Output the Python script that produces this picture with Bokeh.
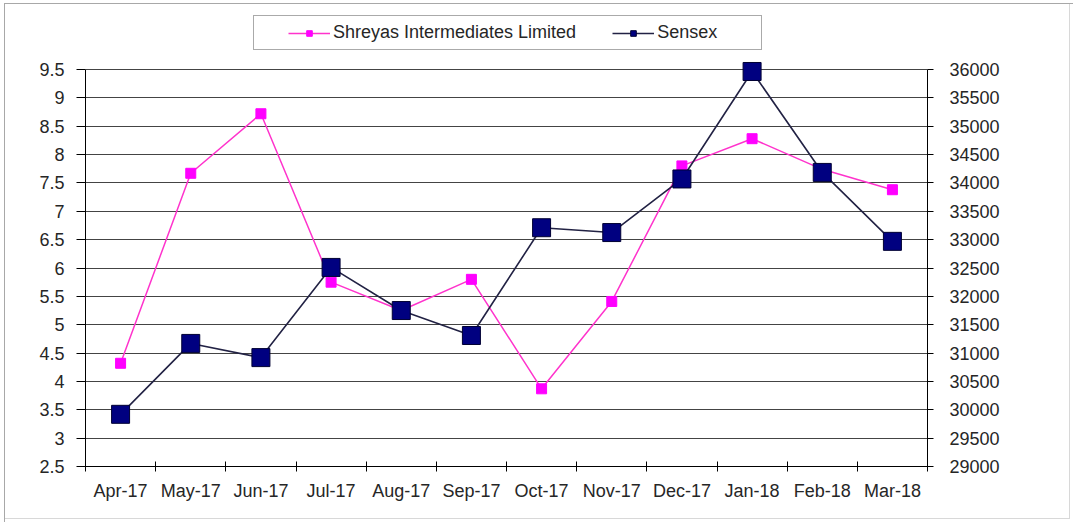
from bokeh.plotting import figure
from bokeh.models import (Range1d, LinearAxis, FixedTicker, Legend, LegendItem,
                          ColumnDataSource)
from bokeh.embed import file_html
from bokeh.resources import INLINE

months = ["Apr-17", "May-17", "Jun-17", "Jul-17", "Aug-17", "Sep-17",
          "Oct-17", "Nov-17", "Dec-17", "Jan-18", "Feb-18", "Mar-18"]
shreyas = [4.32, 7.67, 8.72, 5.75, 5.25, 5.8, 3.87, 5.41, 7.8, 8.28, 7.74, 7.38]
sensex = [29920, 31170, 30920, 32510, 31750, 31310, 33210, 33125, 34070, 35965, 34185, 32970]
left_ticks = [2.5, 3, 3.5, 4, 4.5, 5, 5.5, 6, 6.5, 7, 7.5, 8, 8.5, 9, 9.5]
right_ticks = list(range(29000, 36001, 500))

xpos = [i + 0.5 for i in range(len(months))]
src = ColumnDataSource(dict(x=xpos, s=shreyas, n=sensex, m=months))

FONT = "Liberation Sans"
FS = "18px"
TXT = "#262626"

# layout in pixels: frame from y=5 to y=466, value axis spans 69..466
W, H = 1073, 522
TOP, BOTTOM = 5, H - 466
span_px = 466 - 69
frame_px = H - TOP - BOTTOM
lo, hi = left_ticks[0], left_ticks[-1]
y_end = lo + frame_px * (hi - lo) / span_px
rlo, rhi = right_ticks[0], right_ticks[-1]
r_end = rlo + frame_px * (rhi - rlo) / span_px

p = figure(width=W, height=H, output_backend="svg", toolbar_location=None,
           x_range=Range1d(0, len(months)), y_range=Range1d(lo, y_end),
           min_border_left=85, min_border_right=W - 927, min_border_top=TOP,
           min_border_bottom=BOTTOM,
           styles={"background-color": "white",
                   "box-shadow": "inset 4px 3px 0 0 white, inset 5px 4px 0 0 #a8a8a8, "
                                 "inset -3px -3px 0 0 white, inset -4px -4px 0 0 #d8d8d8"})
p.extra_y_ranges = {"sx": Range1d(rlo, r_end)}
p.outline_line_color = None
p.background_fill_color = "white"
p.border_fill_color = None

# x axis
xa = p.xaxis[0]
xa.ticker = FixedTicker(ticks=xpos, minor_ticks=list(range(len(months) + 1)))
xa.major_label_overrides = {x: m for x, m in zip(xpos, months)}
xa.major_tick_line_color = None
xa.minor_tick_in = 5
xa.minor_tick_out = 5
xa.minor_tick_line_color = "black"
xa.axis_line_color = "black"
xa.major_label_text_font = FONT
xa.major_label_text_font_size = FS
xa.major_label_text_color = TXT
xa.major_label_standoff = 8

# left axis
ya = p.yaxis[0]
ya.ticker = FixedTicker(ticks=left_ticks)
ya.bounds = (lo, hi)
ya.major_tick_in = 0
ya.major_tick_out = 9
ya.minor_tick_line_color = None
ya.major_tick_line_color = "black"
ya.axis_line_color = "black"
ya.major_label_text_font = FONT
ya.major_label_text_font_size = FS
ya.major_label_text_color = TXT
ya.major_label_standoff = 12

# right axis
ra = LinearAxis(y_range_name="sx", ticker=FixedTicker(ticks=right_ticks),
                bounds=(rlo, rhi))
ra.major_tick_in = 0
ra.major_tick_out = 6
ra.minor_tick_line_color = None
ra.major_tick_line_color = "black"
ra.axis_line_color = "black"
ra.major_label_text_font = FONT
ra.major_label_text_font_size = FS
ra.major_label_text_color = TXT
ra.major_label_standoff = 16
p.add_layout(ra, "right")

p.xgrid.grid_line_color = None
p.ygrid.ticker = FixedTicker(ticks=left_ticks)
p.ygrid.grid_line_color = "#444444"
p.ygrid.grid_line_width = 1

l1 = p.line("x", "s", source=src, line_color="#FF33CC", line_width=1.5)
m1 = p.scatter("x", "s", source=src, marker="square", size=10,
               fill_color="#FF00FF", line_color="#FF00FF")
l2 = p.line("x", "n", source=src, y_range_name="sx", line_color="#222244", line_width=1.6)
m2 = p.scatter("x", "n", source=src, y_range_name="sx", marker="square", size=18,
               fill_color="#000080", line_color="#000033")

legend = Legend(items=[LegendItem(label="Shreyas Intermediates Limited", renderers=[l1, m1]),
                       LegendItem(label="Sensex", renderers=[l2, m2])],
                orientation="horizontal", location=(168, 416),
                title=" ", title_location="left", title_standoff=22,
                title_text_font_size="6px",
                label_text_font=FONT, label_text_font_size="18px",
                label_text_color=TXT, glyph_width=42, glyph_height=14,
                spacing=36, padding=6, margin=0, label_standoff=3,
                label_width=98,
                border_line_color="#555555", border_line_width=1,
                background_fill_color="white", background_fill_alpha=1)
p.add_layout(legend, "center")

open("out.html", "w").write(file_html(p, INLINE))
